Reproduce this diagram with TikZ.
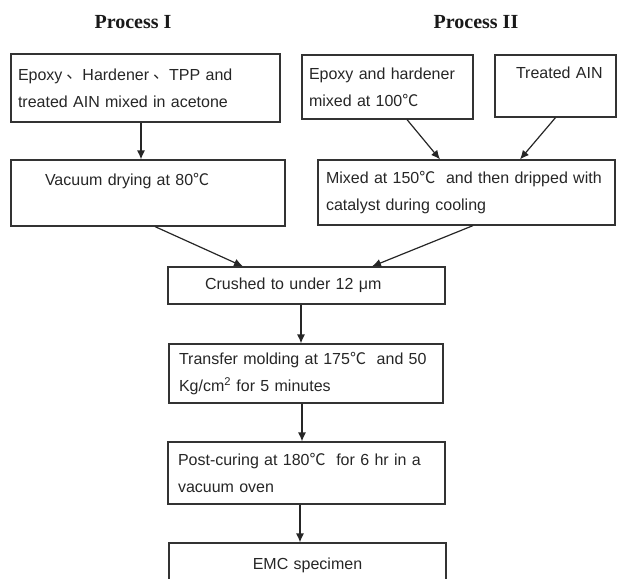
\documentclass[tikz,border=0pt]{standalone}
\usepackage{fontspec}
\setmainfont{Liberation Sans}
\newfontfamily\headfont{Liberation Serif}
\newfontfamily\cjk{Noto Sans CJK SC}
\usetikzlibrary{arrows.meta}
\newcommand{\degc}{{\cjk ℃}}
\newcommand{\dun}{\hspace{4pt}\raisebox{2pt}{\cjk 、}}

\begin{document}
\begin{tikzpicture}[x=1pt,y=-1pt,->,>={Latex[length=9pt,width=8pt]},line width=1.2pt]
  \tikzstyle{stagebox}=[rectangle, draw=black!80, text=black!85, align=left,
inner ysep=0pt, font=\fontsize{16}{27}\selectfont]
  \tikzstyle{heading}=[font=\headfont\bfseries\fontsize{20}{24}\selectfont, text=black!90]
  \useasboundingbox (0,0) rectangle (617,578);

  \node[heading] (H_1) at (133,22) {Process I};
  \node[heading] (H_2) at (476,22) {Process II};

  \node[stagebox, inner xsep=7pt, text width=255pt, minimum height=68pt] (S_1) at (145.5,88)
    {Epoxy\dun Hardener\dun TPP and\\treated AIN mixed in acetone};
  \node[stagebox, inner xsep=34pt, text width=206pt, minimum height=66pt] (S_2) at (148,193)
    {Vacuum drying at 80\degc\\\mbox{}};
  \node[stagebox, inner xsep=7pt, text width=157pt, minimum height=64pt] (S_3) at (387.5,87)
    {Epoxy and hardener\\mixed at 100\degc};
  \node[stagebox, inner xsep=21pt, text width=79pt, minimum height=62pt] (S_4) at (555.5,86)
    {\mbox{Treated AIN}\\\mbox{}};
  \node[stagebox, inner xsep=8pt, text width=281pt, minimum height=65pt] (S_5) at (466.5,192.5)
    {Mixed at 150\degc~ and then dripped with\\catalyst during cooling};
  \node[stagebox, inner xsep=37pt, text width=203pt, minimum height=37pt] (S_6) at (306.5,285.5)
    {Crushed to under 12 μm};
  \node[stagebox, inner xsep=10pt, text width=254pt, minimum height=59pt] (S_7) at (306,373.5)
    {Transfer molding at 175\degc~ and 50\\Kg/cm\textsuperscript{2} for 5 minutes};
  \node[stagebox, inner xsep=10pt, text width=257pt, minimum height=62pt] (S_8) at (306.5,473)
    {Post-curing at 180\degc~ for 6 hr in a\\vacuum oven};
  \node[stagebox, align=center, inner xsep=10pt, text width=257pt, minimum height=44pt] (S_9) at (307.5,565)
    {EMC specimen};

  \draw[draw=black!85] ([xshift=-4.5]S_1.south) -- ([xshift=-4.5]S_1.south |- S_2.north);
  \draw[draw=black!85] ([xshift=19.5]S_3.south) -- ([xshift=-26.5]S_5.north);
  \draw[draw=black!85] (S_4.south) -- ([xshift=53.5]S_5.north);
  \draw[draw=black!85] ([xshift=7]S_2.south) -- ([xshift=-63.5]S_6.north);
  \draw[draw=black!85] ([xshift=6.5]S_5.south) -- ([xshift=65.5]S_6.north);
  \draw[draw=black!85] ([xshift=-5.5]S_6.south) -- ([xshift=-5.5]S_6.south |- S_7.north);
  \draw[draw=black!85] ([xshift=-4]S_7.south) -- ([xshift=-4]S_7.south |- S_8.north);
  \draw[draw=black!85] ([xshift=-6.5]S_8.south) -- ([xshift=-6.5]S_8.south |- S_9.north);
\end{tikzpicture}
\end{document}
